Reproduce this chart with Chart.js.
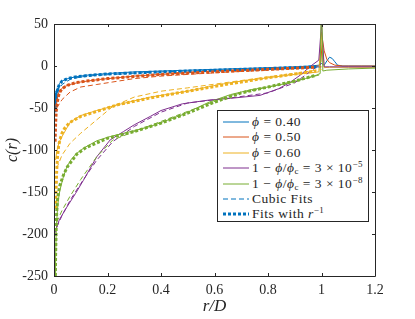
<!DOCTYPE html>
<html>
<head>
<meta charset="utf-8">
<script src="https://cdn.jsdelivr.net/npm/chart.js@4/dist/chart.umd.min.js"></script>
<style>
  body { margin: 0; background: #fff; }
  #wrap { position: relative; width: 415px; height: 319px; }
  #legend {
    position: absolute; left: 217px; top: 110px; width: 150px; height: 110px;
    border: 1px solid #262626; background: #fff;
    font-family: "Liberation Serif", serif; font-size: 13.5px; color: #262626;
  }
  .row { position: absolute; left: 0; height: 15px; line-height: 15px; white-space: nowrap; }
  .row svg { position: absolute; left: 4px; top: 0; }
  .row span { position: absolute; left: 34px; top: 0; letter-spacing: 0.5px; }
  sup { font-size: 9px; vertical-align: 5px; line-height: 0; }
  sub { font-size: 9px; vertical-align: -2px; line-height: 0; }
</style>
</head>
<body>
<div id="wrap">
  <canvas id="chart" width="415" height="319"></canvas>
  <div id="legend"></div>
</div>
<script>
// measured curves c(r), r/D on x
const rPhi40 = [0.002, 0.004, 0.006, 0.008, 0.01, 0.012, 0.015, 0.02, 0.03, 0.05, 0.08, 0.12, 0.2, 0.3, 0.4, 0.5, 0.6, 0.7, 0.8, 0.9, 0.96, 0.99, 1.0, 1.01, 1.02, 1.03, 1.04, 1.05, 1.06, 1.08, 1.1, 1.15, 1.2]
const cPhi40 = [-45, -32, -52, -30, -40, -26, -30, -21, -18, -15, -13, -11, -9, -7, -6, -5, -4, -3, -2, -1, 0, 1, 3, 1, 6, 10.5, 9, 5, 1, 0, 0, 0, 0]

const rPhi50 = [0.004, 0.01, 0.015, 0.02, 0.035, 0.06, 0.1, 0.17, 0.3, 0.4, 0.5, 0.6, 0.7, 0.8, 0.9, 0.96, 0.99, 0.998, 1.003, 1.01, 1.02, 1.03, 1.05, 1.08, 1.2]
const cPhi50 = [-55, -44, -35, -30, -25, -22, -19, -16, -12, -10, -8, -6, -5, -3.5, -2, -1, 0, 5, 33, 18, 8, 4, 1, 0, 0]

const rPhi60 = [0.006, 0.01, 0.02, 0.03, 0.06, 0.1, 0.16, 0.24, 0.36, 0.5, 0.62, 0.7, 0.8, 0.9, 0.96, 0.99, 1.0, 1.01, 1.03, 1.1, 1.2]
const cPhi60 = [-112, -102, -90, -84, -67, -59, -53, -46, -37, -30, -22, -18, -14, -10, -8, -7, 40, -2, -1.5, -1.5, -1.5]

const rCrit5 = [0.003, 0.02, 0.048, 0.08, 0.11, 0.16, 0.21, 0.26, 0.3, 0.36, 0.4, 0.48, 0.58, 0.66, 0.77, 0.84, 0.88, 0.92, 0.96, 0.99, 1.0, 1.01, 1.03, 1.1, 1.2]
const cCrit5 = [-199, -183, -168, -152, -136, -108, -88, -78, -70, -60, -53, -45, -40.5, -38.5, -35, -27, -20, -11, 0, 7, 50, -1, -1, -1, -1]

const rCrit8 = [0.004, 0.006, 0.008, 0.012, 0.016, 0.022, 0.035, 0.048, 0.065, 0.085, 0.11, 0.16, 0.21, 0.3, 0.36, 0.48, 0.58, 0.66, 0.74, 0.8, 0.88, 0.94, 0.98, 0.995, 1.0, 1.005, 1.02, 1.1, 1.2]
const cCrit8 = [-250, -230, -200, -175, -160, -148, -132, -120, -111, -104, -98, -89, -84, -77, -72, -58, -43, -34, -28, -25, -20, -15, -11, -9, 90, -6, -5, -3.5, -2.5]

// cubic fits (dashed)
const rCubic = [0.01, 0.03, 0.06, 0.1, 0.16, 0.22, 0.3, 0.4, 0.5, 0.66, 0.8, 0.9, 1.0]
const cubicPhi40 = [-32, -22, -16, -13, -11, -10, -8.5, -7, -6, -4.5, -3, -2, -1]
const cubicPhi50 = [-50, -40, -31, -25, -22, -19, -15, -12, -10, -7, -5, -3, -1]
const cubicPhi60 = [-122, -106, -92, -80, -64, -48, -37, -30, -26, -19, -13, -9, -4]
const cubicCrit5 = [-192, -178, -160, -140, -112, -90, -72, -55, -44, -38, -32, -20, 3]
const cubicCrit8 = [-186, -172, -155, -135, -108, -88, -78, -66, -54, -35, -25, -18, -10]

// fits with 1/r (dotted)
const rInv40 = [0.004, 0.006, 0.01, 0.015, 0.02, 0.03, 0.05, 0.08, 0.12, 0.2, 0.4, 0.6, 0.8, 0.98]
const invPhi40 = [-55, -42, -32, -26, -22, -18, -15, -13, -11.5, -9.5, -7, -5, -3, -1]
const rInv50 = [0.004, 0.006, 0.008, 0.01, 0.015, 0.02, 0.03, 0.05, 0.08, 0.12, 0.2, 0.4, 0.6, 0.8, 0.98]
const invPhi50 = [-90, -68, -56, -48, -38, -32, -27, -23, -20, -18, -15, -10, -7, -4, -1.5]
const rInv60 = [0.006, 0.008, 0.01, 0.013, 0.017, 0.022, 0.03, 0.04, 0.06, 0.1, 0.16, 0.24, 0.36, 0.5, 0.66, 0.8, 0.98]
const invPhi60 = [-170, -145, -125, -108, -96, -88, -80, -74, -67, -60, -54, -46, -38, -30, -21, -14, -6]
const rInv8 = [0.005, 0.006, 0.008, 0.01, 0.013, 0.017, 0.022, 0.035, 0.05, 0.085, 0.12, 0.2, 0.3, 0.4, 0.5, 0.6, 0.7, 0.8, 0.9, 0.98]
const invCrit8 = [-250, -225, -195, -175, -160, -150, -142, -130, -120, -105, -97, -86, -78, -68, -56, -43, -32, -25, -18, -11]

const xTicks = [0, 0.2, 0.4, 0.6, 0.8, 1, 1.2]
const yTicks = [-250, -200, -150, -100, -50, 0, 50]

const BLUE = 'rgb(0,114,189)'
const RED = 'rgb(217,83,25)'
const YELLOW = 'rgb(237,177,32)'
const PURPLE = 'rgb(126,47,142)'
const GREEN = 'rgb(119,172,48)'

function pts(xs, ys) {
  return xs.map((x, i) => ({ x: x, y: ys[i] }))
}

function solid(xs, ys, color) {
  return { data: pts(xs, ys), borderColor: color, borderWidth: 1 }
}
function dashed(xs, ys, color) {
  return { data: pts(xs, ys), borderColor: color, borderWidth: 1, borderDash: [5, 3] }
}
function dotted(xs, ys, color) {
  return { data: pts(xs, ys), borderColor: color, borderWidth: 3, borderDash: [3, 2], borderCapStyle: 'butt' }
}

const datasets = [
  solid(rPhi40, cPhi40, BLUE),
  solid(rPhi50, cPhi50, RED),
  solid(rPhi60, cPhi60, YELLOW),
  solid(rCrit5, cCrit5, PURPLE),
  solid(rCrit8, cCrit8, GREEN),
  dashed(rCubic, cubicPhi40, BLUE),
  dashed(rCubic, cubicPhi50, RED),
  dashed(rCubic, cubicPhi60, YELLOW),
  dashed(rCubic, cubicCrit5, PURPLE),
  dashed(rCubic, cubicCrit8, GREEN),
  dotted(rInv40, invPhi40, BLUE),
  dotted(rInv50, invPhi50, RED),
  dotted(rInv60, invPhi60, YELLOW),
  dotted(rInv8, invCrit8, GREEN)
]
// later datasets on top, like matlab
datasets.forEach((d, i) => { d.order = datasets.length - i })

const AXIS = '#262626'

// box with inward ticks on all four sides
const boxPlugin = {
  id: 'box',
  afterDraw(chart) {
    const { ctx, chartArea: a, scales } = chart
    ctx.save()
    ctx.strokeStyle = AXIS
    ctx.lineWidth = 1
    ctx.beginPath()
    ctx.rect(a.left + 0.5, a.top + 0.5, a.right - a.left, a.bottom - a.top)
    xTicks.forEach(v => {
      const x = Math.round(scales.x.getPixelForValue(v)) + 0.5
      ctx.moveTo(x, a.bottom); ctx.lineTo(x, a.bottom - 3)
      ctx.moveTo(x, a.top); ctx.lineTo(x, a.top + 3)
    })
    yTicks.forEach(v => {
      const y = Math.round(scales.y.getPixelForValue(v)) + 0.5
      ctx.moveTo(a.left, y); ctx.lineTo(a.left + 3, y)
      ctx.moveTo(a.right, y); ctx.lineTo(a.right - 3, y)
    })
    ctx.stroke()
    ctx.restore()
  }
}

const tickFont = { family: '"Liberation Serif", serif', size: 14 }

new Chart(document.getElementById('chart'), {
  type: 'line',
  data: { datasets: datasets },
  options: {
    responsive: false,
    animation: false,
    layout: { padding: { top: 24, right: 40, left: 0, bottom: 0 } },
    elements: { point: { radius: 0 }, line: { tension: 0 } },
    plugins: { legend: { display: false }, tooltip: { enabled: false } },
    scales: {
      x: {
        type: 'linear', min: 0, max: 1.2,
        grid: { display: false, drawTicks: false },
        border: { display: false },
        afterBuildTicks: s => { s.ticks = xTicks.map(v => ({ value: v })) },
        afterFit: s => { s.height = 43 },
        ticks: { color: AXIS, font: tickFont, padding: 6, maxRotation: 0,
          callback: v => String(v) },
        title: { display: true, text: 'r/D', color: AXIS, padding: { top: 0, bottom: 2 },
          font: { family: '"Liberation Serif", serif', size: 17, style: 'italic' } }
      },
      y: {
        type: 'linear', min: -250, max: 50,
        grid: { display: false, drawTicks: false },
        border: { display: false },
        afterBuildTicks: s => { s.ticks = yTicks.map(v => ({ value: v })) },
        afterFit: s => { s.width = 54 },
        ticks: { color: AXIS, font: tickFont, padding: 6, callback: v => String(v) },
        title: { display: true, text: 'c(r)', color: AXIS, padding: { top: 3, bottom: 0 },
          font: { family: '"Liberation Serif", serif', size: 16, style: 'italic' } }
      }
    }
  },
  plugins: [boxPlugin]
})

// legend, drawn as html over the plot
const legendRows = [
  { kind: 'solid', color: BLUE, html: '<i>ϕ</i> = 0.40' },
  { kind: 'solid', color: RED, html: '<i>ϕ</i> = 0.50' },
  { kind: 'solid', color: YELLOW, html: '<i>ϕ</i> = 0.60' },
  { kind: 'solid', color: PURPLE, html: '1 − <i>ϕ</i>/<i>ϕ</i><sub>c</sub> = 3 × 10<sup>−5</sup>' },
  { kind: 'solid', color: GREEN, html: '1 − <i>ϕ</i>/<i>ϕ</i><sub>c</sub> = 3 × 10<sup>−8</sup>' },
  { kind: 'dashed', color: BLUE, html: 'Cubic Fits' },
  { kind: 'dotted', color: BLUE, html: 'Fits with <i>r</i><sup>−1</sup>' }
]
const legendEl = document.getElementById('legend')
legendRows.forEach((row, i) => {
  const div = document.createElement('div')
  div.className = 'row'
  div.style.top = (3 + i * 15.4) + 'px'
  let stroke = 'stroke-width="1"'
  if (row.kind === 'dashed') stroke = 'stroke-width="1" stroke-dasharray="5 3"'
  if (row.kind === 'dotted') stroke = 'stroke-width="3" stroke-dasharray="3 2"'
  div.innerHTML = '<svg width="28" height="15"><line x1="1" y1="8" x2="27" y2="8" stroke="' +
    row.color + '" ' + stroke + '/></svg><span>' + row.html + '</span>'
  legendEl.appendChild(div)
})
</script>
</body>
</html>
